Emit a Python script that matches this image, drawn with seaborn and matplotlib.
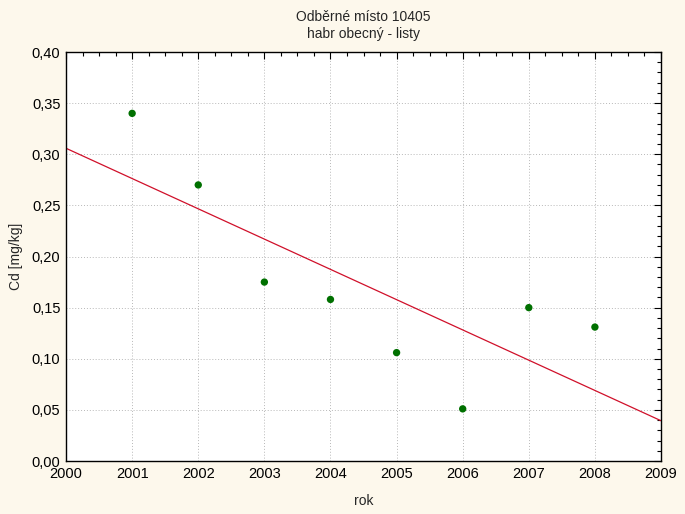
import numpy as np
import pandas as pd
import seaborn as sns
import matplotlib
matplotlib.use("Agg")
import matplotlib.pyplot as plt
from matplotlib.ticker import MultipleLocator, FuncFormatter

years = [2001, 2002, 2003, 2004, 2005, 2006, 2007, 2008]
cd_values = [0.340, 0.270, 0.175, 0.158, 0.106, 0.051, 0.150, 0.131]
title_lines = ["Odběrné místo 10405", "habr obecný - listy"]

df = pd.DataFrame({"rok": years, "Cd": cd_values})

sns.set_style("white")
plt.rcParams["font.family"] = ["Liberation Sans", "DejaVu Sans"]

bg = "#fdf8ec"
fig = plt.figure(figsize=(6.85, 5.14), dpi=100, facecolor=bg)
ax = fig.add_axes([0.0964, 0.1031, 0.8686, 0.7957])
ax.set_facecolor("white")

ax.set_xlim(2000, 2009)
ax.set_ylim(0, 0.40)

# regression line across the whole x range, then the points
sns.regplot(data=df, x="rok", y="Cd", ax=ax, ci=None, truncate=False,
            scatter=False, line_kws={"color": "#d0102a", "linewidth": 0.9})
sns.scatterplot(data=df, x="rok", y="Cd", ax=ax, color="#007000",
                s=28, edgecolor="none", zorder=3)

ax.set_xlim(2000, 2009)
ax.set_ylim(0, 0.40)
ax.xaxis.set_major_locator(MultipleLocator(1))
ax.xaxis.set_minor_locator(MultipleLocator(0.25))
ax.yaxis.set_major_locator(MultipleLocator(0.05))
ax.yaxis.set_minor_locator(MultipleLocator(0.01))
ax.xaxis.set_major_formatter(FuncFormatter(lambda v, p: f"{int(round(v))}"))
ax.yaxis.set_major_formatter(FuncFormatter(lambda v, p: f"{v:.2f}".replace(".", ",")))

ax.tick_params(which="both", direction="in", top=True, right=True,
               labelsize=10.5, colors="black", pad=4)
ax.tick_params(which="major", length=5, width=0.8)
ax.tick_params(which="minor", length=3, width=0.8)

ax.grid(True, which="major", linestyle=(0, (1, 2)), color="#b8b8b8", linewidth=0.7)
for s in ax.spines.values():
    s.set_color("black")
    s.set_linewidth(1.0)

ax.set_title("\n".join(title_lines), fontsize=10, pad=10, linespacing=1.25)
ax.set_xlabel("rok", fontsize=10, labelpad=10)
ax.set_ylabel("Cd [mg/kg]", fontsize=10, labelpad=6)

fig.savefig("out.png", dpi=100, facecolor=bg)
